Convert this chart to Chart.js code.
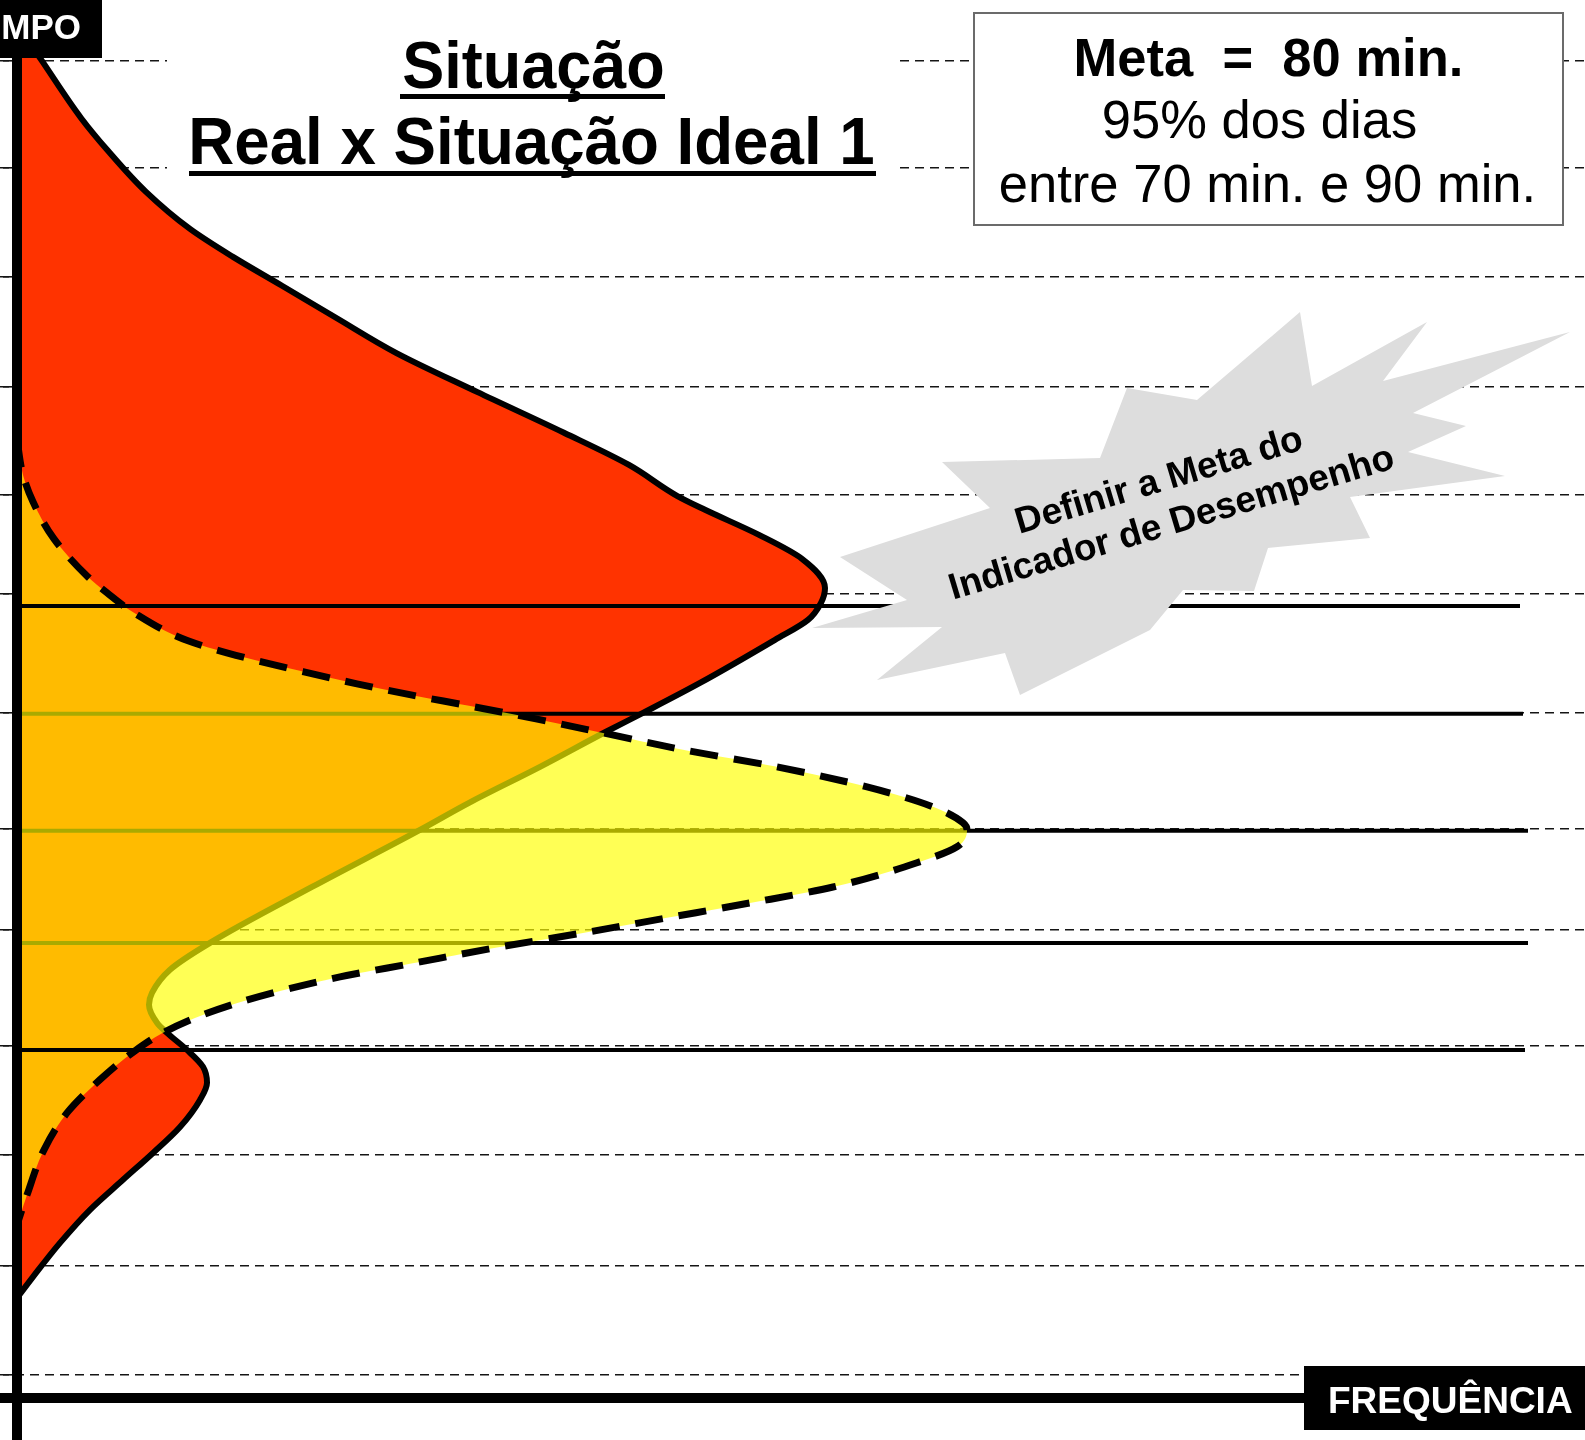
<!DOCTYPE html>
<html>
<head>
<meta charset="utf-8">
<script src="https://cdn.jsdelivr.net/npm/chart.js@4.4.1/dist/chart.umd.min.js"></script>
<style>
html,body{margin:0;padding:0;background:#fff;}
#wrap{position:relative;width:1585px;height:1440px;overflow:hidden;font-family:"Liberation Sans",Arial,Helvetica,sans-serif;}
#c{position:absolute;left:0;top:0;}
.abs{position:absolute;white-space:pre;}
</style>
</head>
<body>
<div id="wrap">
<canvas id="c" width="1585" height="1440"></canvas>

<!-- white backing of the title -->
<div class="abs" style="left:167px;top:20px;width:733px;height:162px;background:#fff;"></div>
<div class="abs" style="left:167px;top:31px;width:733px;text-align:center;font-weight:bold;font-size:67px;line-height:67px;transform:scaleX(0.94);">Situação</div>
<div class="abs" style="left:165px;top:107px;width:733px;text-align:center;font-weight:bold;font-size:67px;line-height:67px;transform:scaleX(0.95);">Real x Situação Ideal 1</div>
<div class="abs" style="left:400px;top:94px;width:265px;height:5px;background:#000;"></div>
<div class="abs" style="left:189px;top:171px;width:687px;height:5px;background:#000;"></div>

<!-- goal box -->
<div class="abs" style="left:973px;top:12px;width:587px;height:210px;background:#fff;border:2px solid #6b6b6b;"></div>
<div class="abs" style="left:973px;top:30px;width:591px;text-align:center;font-weight:bold;font-size:54px;line-height:54px;transform:scaleX(0.973);">Meta  =  80 min.</div>
<div class="abs" style="left:964px;top:92px;width:591px;text-align:center;font-size:54px;line-height:54px;transform:scaleX(0.973);">95% dos dias</div>
<div class="abs" style="left:972px;top:156px;width:591px;text-align:center;font-size:54px;line-height:54px;transform:scaleX(0.973);">entre 70 min. e 90 min.</div>

<!-- starburst -->
<svg class="abs" width="1585" height="1440" style="left:0;top:0;">
<polygon fill="#DDDDDD" points="1300,312 1312,386 1427,322 1383,381 1570,332 1413,413 1466,426 1408,452 1505,476 1350,497 1370,538 1268,548 1254,591 1183,590 1150,630 1020,695 1005,653 877,680 942,627 812,628 907,600 840,557 990,508 942,462 1100,458 1127,388 1197,400"/>
</svg>
<div class="abs" style="left:915px;top:457px;width:500px;height:88px;text-align:center;font-weight:bold;font-size:37px;line-height:44px;transform:rotate(-16.6deg);transform-origin:50% 50%;">Definir a Meta do
Indicador de Desempenho</div>

<!-- axis labels -->
<div class="abs" style="left:0;top:0;width:102px;height:58px;background:#000;overflow:hidden;">
  <span class="abs" style="right:21px;top:9px;color:#fff;font-weight:bold;font-size:35px;line-height:35px;">TEMPO</span>
</div>
<div class="abs" style="left:1304px;top:1366px;width:281px;height:64px;background:#000;overflow:hidden;">
  <span class="abs" style="left:24px;top:16px;color:#fff;font-weight:bold;font-size:37px;line-height:37px;">FREQUÊNCIA</span>
</div>
</div>

<script>
// ---- data (time in minutes on the vertical axis, frequency on the horizontal axis) ----
const realTime = [115.88,114.66,112.00,110.52,108.67,107.00,105.74,104.44,103.00,101.42,99.66,97.82,96.37,94.98,94.35,93.22,92.14,90.83,90.16,89.39,88.49,86.55,85.20,84.35,82.77,81.15,79.93,77.36,74.84,73.63,72.59,72.05,71.24,70.79,70.02,69.26,68.54,67.77,66.55,65.38,64.17,62.82,61.33,59.80,58.85];
const realFreq = [0.5,2.36,6.4,9.1,12.9,17.3,21.6,26.5,31.9,37.9,46.0,54.7,61.2,66.0,68.8,74.2,78.5,80.8,80.4,79.1,75.8,68.3,62.6,58.9,52.3,45.2,40.3,29.5,19.3,15.3,13.5,13.2,14.0,15.0,17.0,18.6,19.0,18.3,16.3,13.6,10.6,7.3,4.3,1.6,0];

const idealTime = [97.50,95.92,94.71,93.04,91.37,90.61,89.71,88.45,87.68,87.05,86.51,86.01,85.52,84.93,84.30,83.54,82.77,81.87,80.97,80.25,79.93,79.17,78.45,77.36,76.64,75.97,75.29,74.66,73.90,73.31,72.73,72.10,71.46,70.79,69.98,68.68,67.24,65.52,63.49,62.14];
const idealFreq = [0,0.6,1.6,3.7,7.0,9.0,11.7,17.1,22.9,28.7,34.0,39.4,45.2,51.9,58.6,66.6,76.0,85.0,91.6,94.6,95.0,94.0,90.0,81.6,73.3,65.0,56.6,48.3,39.3,32.3,26.8,21.8,17.8,14.6,11.8,8.3,5.1,2.7,1.0,0];

// horizontal reference lines: tolerance limits (70 and 90 min) and the inner band lines
const limitTimes = [90.02, 70.02];
const limitEnds  = [150.3, 150.8];
const bandTimes  = [85.16, 79.89, 74.84];
const bandEnds   = [150.6, 151.1, 151.1];

const gridTimes = [114.57,109.75,104.84,99.89,95.02,90.56,85.20,79.98,75.43,70.20,65.29,60.29,55.38];

const timeMin = 52.45, timeMax = 114.7;
const freqMin = -1.7, freqMax = 156.8;
const axisTime = 54.35;

// ---- build datasets ----
const toPts = (ts, fs) => ts.map((t, i) => ({x: fs[i], y: t}));
const hLine = (t, end, order, label) => ({
  label, order,
  data: [{x: 0, y: t}, {x: end, y: t}],
  fill: false,
  borderColor: '#000',
  borderWidth: 4,
  pointRadius: 0
});

const datasets = [];
limitTimes.forEach((t, i) => datasets.push(hLine(t, limitEnds[i], 0, 'limite ' + i)));
datasets.push({
  label: 'Situação Ideal 1',
  order: 1,
  data: toPts(idealTime, idealFreq),
  fill: 'origin',
  backgroundColor: 'rgba(255,255,0,0.667)',
  borderColor: '#000',
  borderWidth: 7,
  borderDash: [28, 16],
  cubicInterpolationMode: 'monotone',
  pointRadius: 0
});
bandTimes.forEach((t, i) => datasets.push(hLine(t, bandEnds[i], 2, 'faixa ' + i)));
datasets.push({
  label: 'Situação Real',
  order: 3,
  data: toPts(realTime, realFreq),
  fill: 'origin',
  backgroundColor: '#FF3300',
  borderColor: '#000',
  borderWidth: 6,
  borderJoinStyle: 'round',
  cubicInterpolationMode: 'monotone',
  pointRadius: 0
});

new Chart(document.getElementById('c'), {
  type: 'line',
  data: { datasets },
  options: {
    responsive: false,
    animation: false,
    devicePixelRatio: 1,
    indexAxis: 'y',
    layout: { padding: { top: 58, left: 0, right: 0, bottom: 0 } },
    plugins: { legend: { display: false }, tooltip: { enabled: false } },
    events: [],
    scales: {
      x: {
        type: 'linear',
        min: freqMin, max: freqMax,
        position: { y: axisTime },
        grid: { display: false },
        ticks: { display: false },
        border: { display: true, color: '#000', width: 10, z: 1 }
      },
      y: {
        type: 'linear',
        min: timeMin, max: timeMax,
        position: { x: 0 },
        ticks: { display: false },
        afterBuildTicks: (s) => { s.ticks = gridTimes.map(v => ({ value: v })); },
        grid: { color: '#151515', lineWidth: 1.6, tickLength: 9, drawTicks: true, tickBorderDash: [] },
        border: { display: true, color: '#000', width: 10, z: 1, dash: [9, 6] }
      }
    }
  }
});
</script>
</body>
</html>
